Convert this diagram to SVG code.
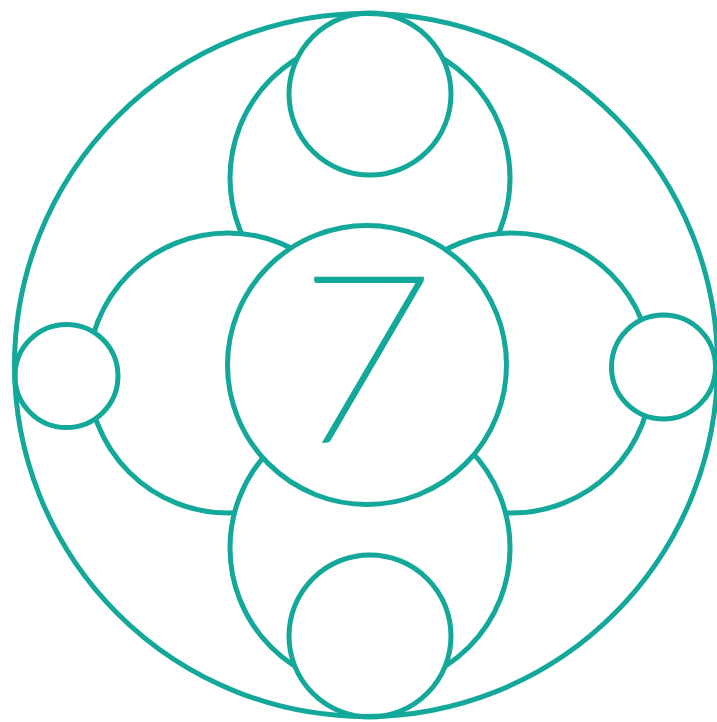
<svg xmlns="http://www.w3.org/2000/svg" width="717" height="722" viewBox="0 0 717 722">
<style>
.c{fill:#ffffff;stroke:#13a89a;stroke-width:5}
.o{fill:none;stroke:#13a89a;stroke-width:5}
.t{font-family:Lato,"Open Sans","Liberation Sans",sans-serif;font-weight:100;font-size:232px;fill:#13a89a;stroke:#13a89a;stroke-width:3.6;stroke-linejoin:miter}
</style>
<rect width="717" height="722" fill="#ffffff"/>
<g id="medium-top"><circle class="c" cx="370" cy="178" r="140"/></g>
<g id="medium-left"><circle class="c" cx="228" cy="373" r="140"/></g>
<g id="medium-right"><circle class="c" cx="512" cy="373" r="140"/></g>
<g id="medium-bottom"><circle class="c" cx="370" cy="548" r="140"/></g>
<g id="center"><circle class="c" cx="367" cy="365" r="139.5"/>
<text class="t" x="0" y="0" text-anchor="middle" transform="translate(355,441) skewX(-4.2)">7</text></g>
<g id="small-top"><circle class="c" cx="370" cy="94" r="81"/></g>
<g id="small-bottom"><circle class="c" cx="370" cy="636" r="81"/></g>
<g id="small-left"><circle class="c" cx="66.5" cy="376" r="51.5"/></g>
<g id="small-right"><circle class="c" cx="663.5" cy="367" r="52"/></g>
<g id="outer"><circle class="o" cx="366" cy="365" r="351.5"/></g>
<g id="connectors"></g>
</svg>
